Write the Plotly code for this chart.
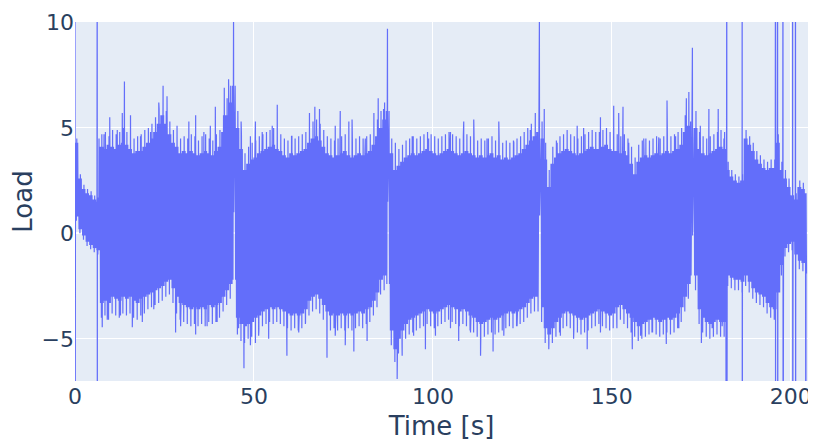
import plotly.graph_objects as go

# ---- data ----
sec = list(range(0, 205))
# solid core of the oscillation, per second
upper = [4.3, 2.6, 2.1, 1.9, 1.8, 1.6, 1.5, 4.1, 4.0, 4.2,
         4.1, 4.0, 4.2, 4.3, 4.2, 4.0, 3.8, 3.9, 3.9, 4.1,
         4.3, 4.5, 4.8, 5.2, 5.6, 5.2, 4.7, 4.3, 4.1, 3.8,
         3.9, 3.8, 3.9, 3.8, 3.7, 3.8, 3.9, 3.8, 3.7, 3.9,
         4.1, 4.8, 5.6, 6.2, 7.0, 5.0, 4.0, 3.0, 3.3, 3.5,
         3.6, 3.8, 3.9, 4.0, 4.1, 4.2, 4.0, 3.9, 3.7, 3.6,
         3.8, 3.7, 3.8, 3.9, 4.0, 4.3, 4.5, 4.6, 4.4, 4.1,
         3.8, 3.7, 3.6, 3.7, 3.8, 3.9, 3.7, 3.6, 3.7, 3.8,
         3.7, 3.8, 3.9, 4.2, 4.6, 5.0, 5.4, 5.8, 3.8, 3.0,
         3.2, 3.4, 3.6, 3.7, 3.8, 3.7, 3.8, 3.9, 4.0, 3.9,
         3.8, 3.7, 3.8, 3.9, 4.0, 3.9, 3.8, 3.7, 3.8, 3.9,
         3.8, 3.7, 3.6, 3.7, 3.6, 3.7, 3.8, 3.6, 3.7, 3.5,
         3.6, 3.5, 3.6, 3.7, 3.8, 4.0, 4.2, 4.4, 4.6, 4.8,
         4.5, 3.5, 2.2, 3.3, 3.6, 3.8, 3.9, 4.0, 3.9, 3.8,
         3.7, 3.8, 3.9, 4.0, 4.1, 4.0, 4.0, 4.1, 4.2, 4.0,
         3.9, 3.9, 3.8, 3.9, 3.7, 3.3, 2.8, 3.4, 3.6, 3.7,
         3.6, 3.7, 3.8, 3.7, 3.8, 3.9, 3.8, 3.9, 4.0, 4.2,
         4.8, 5.1, 5.3, 5.0, 4.0, 3.8, 3.7, 3.8, 3.9, 4.0,
         4.1, 4.0, 3.0, 2.7, 2.5, 2.4, 2.5, 4.5, 4.2, 3.9,
         3.5, 3.3, 3.1, 3.0, 3.1, 3.1, 4.3, 3.0, 2.6, 2.2,
         1.8, 1.6, 2.2, 2.1, 1.9]
lower = [0.8, 0.2, -0.1, -0.4, -0.55, -0.7, -0.8, -3.3, -3.2, -3.3,
         -3.0, -3.1, -3.2, -3.0, -3.1, -3.0, -3.2, -3.3, -3.1, -3.0,
         -2.9, -2.8, -2.7, -2.6, -2.5, -2.3, -2.2, -2.6, -3.0, -3.3,
         -3.4, -3.5, -3.6, -3.5, -3.6, -3.5, -3.6, -3.4, -3.5, -3.4,
         -3.3, -3.0, -2.7, -2.4, -2.2, -4.0, -4.3, -4.4, -4.3, -4.2,
         -4.0, -3.9, -3.7, -3.6, -3.5, -3.6, -3.5, -3.6, -3.7, -3.8,
         -3.9, -3.8, -3.9, -3.8, -3.6, -3.2, -3.0, -2.9, -3.1, -3.4,
         -3.7, -3.9, -3.8, -3.9, -3.8, -3.9, -3.8, -3.9, -3.8, -3.7,
         -3.8, -3.6, -3.5, -3.2, -2.8, -2.2, -2.0, -2.4, -4.6, -5.5,
         -5.0, -4.6, -4.3, -4.1, -4.0, -3.9, -3.8, -3.7, -3.6, -3.7,
         -3.8, -3.7, -3.6, -3.5, -3.4, -3.5, -3.6, -3.7, -3.6, -3.7,
         -3.9, -4.0, -4.2, -4.3, -4.2, -4.1, -4.0, -4.1, -4.0, -3.9,
         -3.8, -3.7, -3.8, -3.7, -3.6, -3.5, -3.3, -3.1, -3.0, -3.0,
         -3.5, -4.5, -4.8, -4.5, -4.2, -4.0, -3.8, -3.7, -3.8, -3.9,
         -4.0, -4.1, -4.0, -3.9, -3.8, -3.7, -3.6, -3.7, -3.8, -3.9,
         -3.8, -3.5, -3.4, -3.6, -3.8, -4.0, -4.2, -4.4, -4.3, -4.2,
         -4.1, -4.0, -4.1, -4.2, -4.1, -4.0, -4.1, -4.0, -3.8, -3.5,
         -3.0, -2.4, -2.0, -2.0, -3.6, -4.0, -4.2, -4.3, -4.2, -4.1,
         -4.2, -4.2, -2.0, -2.1, -2.2, -2.2, -2.3, -2.0, -2.3, -2.6,
         -2.8, -2.9, -3.0, -3.3, -3.5, -3.6, -2.8, -1.5, -0.7, -0.5,
         -0.4, -1.0, -1.3, -1.4, -1.5]
# thin fringe reached once per second beyond the solid core
upper_fringe = [4.5, 2.8, 2.3, 2.1, 2.0, 1.8, 1.7,
                4.7, 4.8, 4.6, 4.9, 4.7, 4.8, 5.0, 4.8, 4.6, 4.5, 4.6, 4.7, 4.9,
                5.0, 5.2, 5.5, 5.9, 6.2, 5.8, 5.3,
                4.9, 4.7, 4.5, 4.6, 4.5, 4.7, 4.6, 4.4, 4.6, 4.7, 4.5, 4.4, 4.7,
                4.9, 5.6, 6.4, 7.0, 7.6,
                5.8, 4.7, 3.8, 4.1, 4.3,
                4.4, 4.6, 4.7, 4.8, 4.9, 5.0, 4.8, 4.7, 4.5, 4.4, 4.6, 4.5, 4.6, 4.7,
                4.8, 5.1, 5.3, 5.4, 5.2, 4.9,
                4.6, 4.5, 4.4, 4.5, 4.6, 4.7, 4.5, 4.4, 4.5, 4.6, 4.5, 4.6, 4.7,
                5.0, 5.4, 5.8, 6.2, 6.6,
                4.5, 3.8, 4.0, 4.2,
                4.4, 4.5, 4.6, 4.5, 4.6, 4.7, 4.8, 4.7, 4.6, 4.5,
                4.6, 4.7, 4.8, 4.7, 4.6, 4.5, 4.6, 4.7, 4.6, 4.5,
                4.4, 4.5, 4.4, 4.5, 4.6, 4.4, 4.5, 4.3, 4.4, 4.3,
                4.4, 4.5, 4.6,
                4.8, 5.0, 5.2, 5.4, 5.6,
                5.3, 4.3, 3.0, 4.1,
                4.4, 4.6, 4.7, 4.8, 4.7, 4.6, 4.5, 4.6, 4.7, 4.8,
                4.9, 4.8, 4.8, 4.9, 5.0, 4.8, 4.7, 4.7, 4.6, 4.7,
                4.5, 4.1, 3.6,
                4.2, 4.4, 4.5, 4.4, 4.5, 4.6, 4.5, 4.6, 4.7, 4.6, 4.7, 4.8,
                5.0, 5.6, 5.9, 6.1, 5.8,
                4.8, 4.6, 4.5, 4.6, 4.7, 4.8, 4.9, 4.8,
                3.4, 3.0, 2.8, 2.7, 2.8,
                4.9, 4.6, 4.3, 3.9, 3.7, 3.5, 3.4, 3.5, 3.5,
                4.7, 3.4, 3.0, 2.6, 2.1, 1.9, 2.5, 2.4, 2.2]
lower_fringe = [0.6, 0.0, -0.3, -0.6, -0.75, -0.9, -1.0,
                -4.0, -3.9, -4.1, -3.8, -3.9, -4.0, -3.8, -3.9, -3.8, -4.0, -4.1, -3.9, -3.8,
                -3.6, -3.5, -3.4, -3.3, -3.2, -3.0, -2.9,
                -3.3, -3.8, -4.1, -4.2, -4.3, -4.4, -4.3, -4.4, -4.3, -4.4, -4.2, -4.3, -4.2,
                -4.0, -3.7, -3.4, -3.1, -2.9,
                -4.8, -5.1, -5.2, -5.0, -4.9,
                -4.7, -4.6, -4.4, -4.3, -4.2, -4.3, -4.2, -4.3, -4.4, -4.5, -4.6, -4.5, -4.6, -4.5,
                -4.3, -3.9, -3.7, -3.6, -3.8, -4.1,
                -4.4, -4.6, -4.5, -4.6, -4.5, -4.6, -4.5, -4.6, -4.5, -4.4, -4.5, -4.3, -4.2,
                -3.9, -3.5, -2.9, -2.7, -3.1,
                -5.3, -6.1, -5.7, -5.3,
                -5.0, -4.8, -4.7, -4.6, -4.5, -4.4, -4.3, -4.4, -4.5, -4.4,
                -4.3, -4.2, -4.1, -4.2, -4.3, -4.4, -4.3, -4.4, -4.6, -4.7,
                -4.9, -5.0, -4.9, -4.8, -4.7, -4.8, -4.7, -4.6, -4.5, -4.4,
                -4.5, -4.4, -4.3,
                -4.2, -4.0, -3.8, -3.7, -3.7,
                -4.2, -5.2, -5.5, -5.2,
                -4.9, -4.7, -4.5, -4.4, -4.5, -4.6, -4.7, -4.8, -4.7, -4.6,
                -4.5, -4.4, -4.3, -4.4, -4.5, -4.6, -4.5, -4.2, -4.1, -4.3,
                -4.5, -4.7, -4.9,
                -5.1, -5.0, -4.9, -4.8, -4.7, -4.8, -4.9, -4.8, -4.7, -4.8, -4.7, -4.5,
                -4.2, -3.7, -3.1, -2.7, -2.7,
                -4.3, -4.7, -4.9, -5.0, -4.9, -4.8, -4.9, -4.9,
                -2.5, -2.6, -2.7, -2.7, -2.8,
                -2.5, -2.8, -3.1, -3.3, -3.4, -3.5, -3.8, -4.0, -4.1,
                -3.3, -2.0, -1.1, -0.9, -0.8, -1.4, -1.7, -1.8, -1.9]
t_end = 204.4

# isolated tall spikes sticking out of the band
spike_t = [6.7, 8.1, 9.7, 11.8, 13.2, 13.8, 15.5, 18.3, 21.1, 23.4, 24.6, 25.7,
           28.5, 31.8, 33.7, 36.0, 37.8, 39.2, 41.7, 42.9, 46.4, 49.0, 50.4,
           7.6, 9.0, 12.7, 16.0, 18.8, 22.0, 28.1, 29.5, 33.7, 36.9, 39.7,
           45.7, 47.2, 49.0, 50.4,
           52.3, 55.1, 56.5, 60.6, 65.5, 67.0, 68.3, 72.7, 74.1, 76.5, 77.4,
           81.1, 83.5, 84.7, 86.2, 89.5, 94.2, 98.8, 102.5,
           51.3, 54.1, 59.2, 62.5, 64.4, 70.4, 72.7, 75.5, 77.9, 81.6, 89.0,
           90.0, 91.4, 94.6, 97.9, 100.7,
           104.9, 108.6, 111.4, 115.1, 118.4, 122.6, 127.2, 128.6, 131.1,
           134.7, 137.5, 140.3, 142.1, 146.8, 150.5, 151.9, 153.1,
           104.9, 107.2, 110.5, 113.3, 116.8, 119.8, 123.5, 132.4, 135.6,
           139.3, 143.1, 146.8, 151.4,
           154.7, 158.9, 163.1, 165.4, 167.8, 170.8, 171.5, 174.7, 177.1,
           179.7, 181.3,
           155.7, 158.0, 161.2, 165.2, 168.7, 175.0, 178.0, 180.8]
spike_v = [4.5, 4.7, 5.5, 4.9, 5.7, 7.2, 5.6, 4.6, 4.8, 6.2, 7.0, 6.5,
           5.1, 5.3, 5.6, 4.8, 5.1, 6.0, 6.9, 7.3, 5.3, 4.6, 5.3,
           -4.45, -4.1, -3.9, -4.45, -4.2, -3.6, -4.7, -4.4, -4.8, -4.4, -4.2,
           -4.5, -6.4, -5.3, -5.2,
           4.8, 5.1, 6.1, 4.6, 5.7, 6.0, 5.9, 5.1, 5.8, 5.3, 5.4,
           4.5, 5.7, 6.4, 5.9, 4.3, 4.6, 4.5, 4.2,
           -4.85, -5.0, -5.8, -4.7, -4.2, -5.9, -4.85, -5.3, -5.6, -5.1, -5.5,
           -6.9, -5.8, -4.85, -5.5, -4.85,
           4.8, 5.3, 5.4, 4.5, 5.3, 4.3, 4.9, 5.7, 5.9,
           4.3, 4.9, 5.1, 5.0, 5.5, 6.05, 5.7, 6.0,
           -4.5, -5.1, -4.7, -5.8, -5.6, -4.85, -4.4, -5.2, -4.85,
           -5.0, -5.5, -4.7, -4.5,
           4.3, 4.5, 4.55, 6.3, 4.6, 6.4, 6.7, 5.1, 5.9,
           5.9, 4.5,
           -5.5, -4.85, -4.7, -5.25, -4.5, -5.2, -4.5, -4.4]

# big peaks, each followed by a brief upward excursion of the lower side
peak_t = [44.3, 87.3, 129.75, 172.5]
peak_v = [10.2, 9.7, 10.1, 8.8]
notch_v = [1.0, 1.5, 0.85, -0.1]

# excursions far outside the shown range (full-height lines)
jump_t = [0.0, 6.2, 181.9, 182.1, 186.4, 195.7, 196.3, 197.8, 200.5, 201.3]
jump_hi = 15.0
jump_lo = -15.0
drop_t = [204.2]
drop_v = [-15.0]

y_ticks = [-5, 0, 5, 10]

assert len(upper) == len(lower) == len(upper_fringe) == len(lower_fringe) == len(sec)

# ---- assemble the trace ----
events = []
for i, t in enumerate(sec):
    seq = [upper[i], lower[i], upper[i], lower_fringe[i],
           upper_fringe[i], lower[i], upper[i], lower[i]]
    for k, v in enumerate(seq):
        tt = t + k / 8.0
        if tt > t_end:
            break
        if any(p - 0.15 < tt < p + 0.4 for p in peak_t):
            continue
        events.append((tt, v))
for t, v in zip(spike_t, spike_v):
    events.append((t + 0.01, v))
for t, v, n in zip(peak_t, peak_v, notch_v):
    events.append((t, v))
    events.append((t + 0.06, n))
for t in jump_t:
    events.append((t + 0.005, jump_hi))
    events.append((t + 0.04, jump_lo))
for t, v in zip(drop_t, drop_v):
    events.append((t + 0.005, v))
events.sort(key=lambda e: e[0])

xs = [e[0] for e in events]
ys = [e[1] for e in events]

fig = go.Figure()
fig.add_trace(go.Scatter(x=xs, y=ys, mode="lines",
                         line=dict(color="#636efa", width=1.2),
                         showlegend=False))

fig.update_layout(
    template="plotly",
    width=808, height=433,
    margin=dict(l=67, r=8, t=14, b=60),
    font=dict(family="Verdana, DejaVu Sans, sans-serif", size=22, color="#2a3f5f"),
    showlegend=False,
)
fig.update_xaxes(range=[0, 204.8], dtick=50, automargin=False,
                 ticklabeloverflow="allow",
                 title=dict(text="Time [s]", font=dict(size=26), standoff=8))
fig.update_yaxes(range=[-7, 10.02], tickvals=y_ticks, automargin=False,
                 ticklabeloverflow="allow",
                 title=dict(text="Load", font=dict(size=26), standoff=14))

fig.write_html("out.html")
